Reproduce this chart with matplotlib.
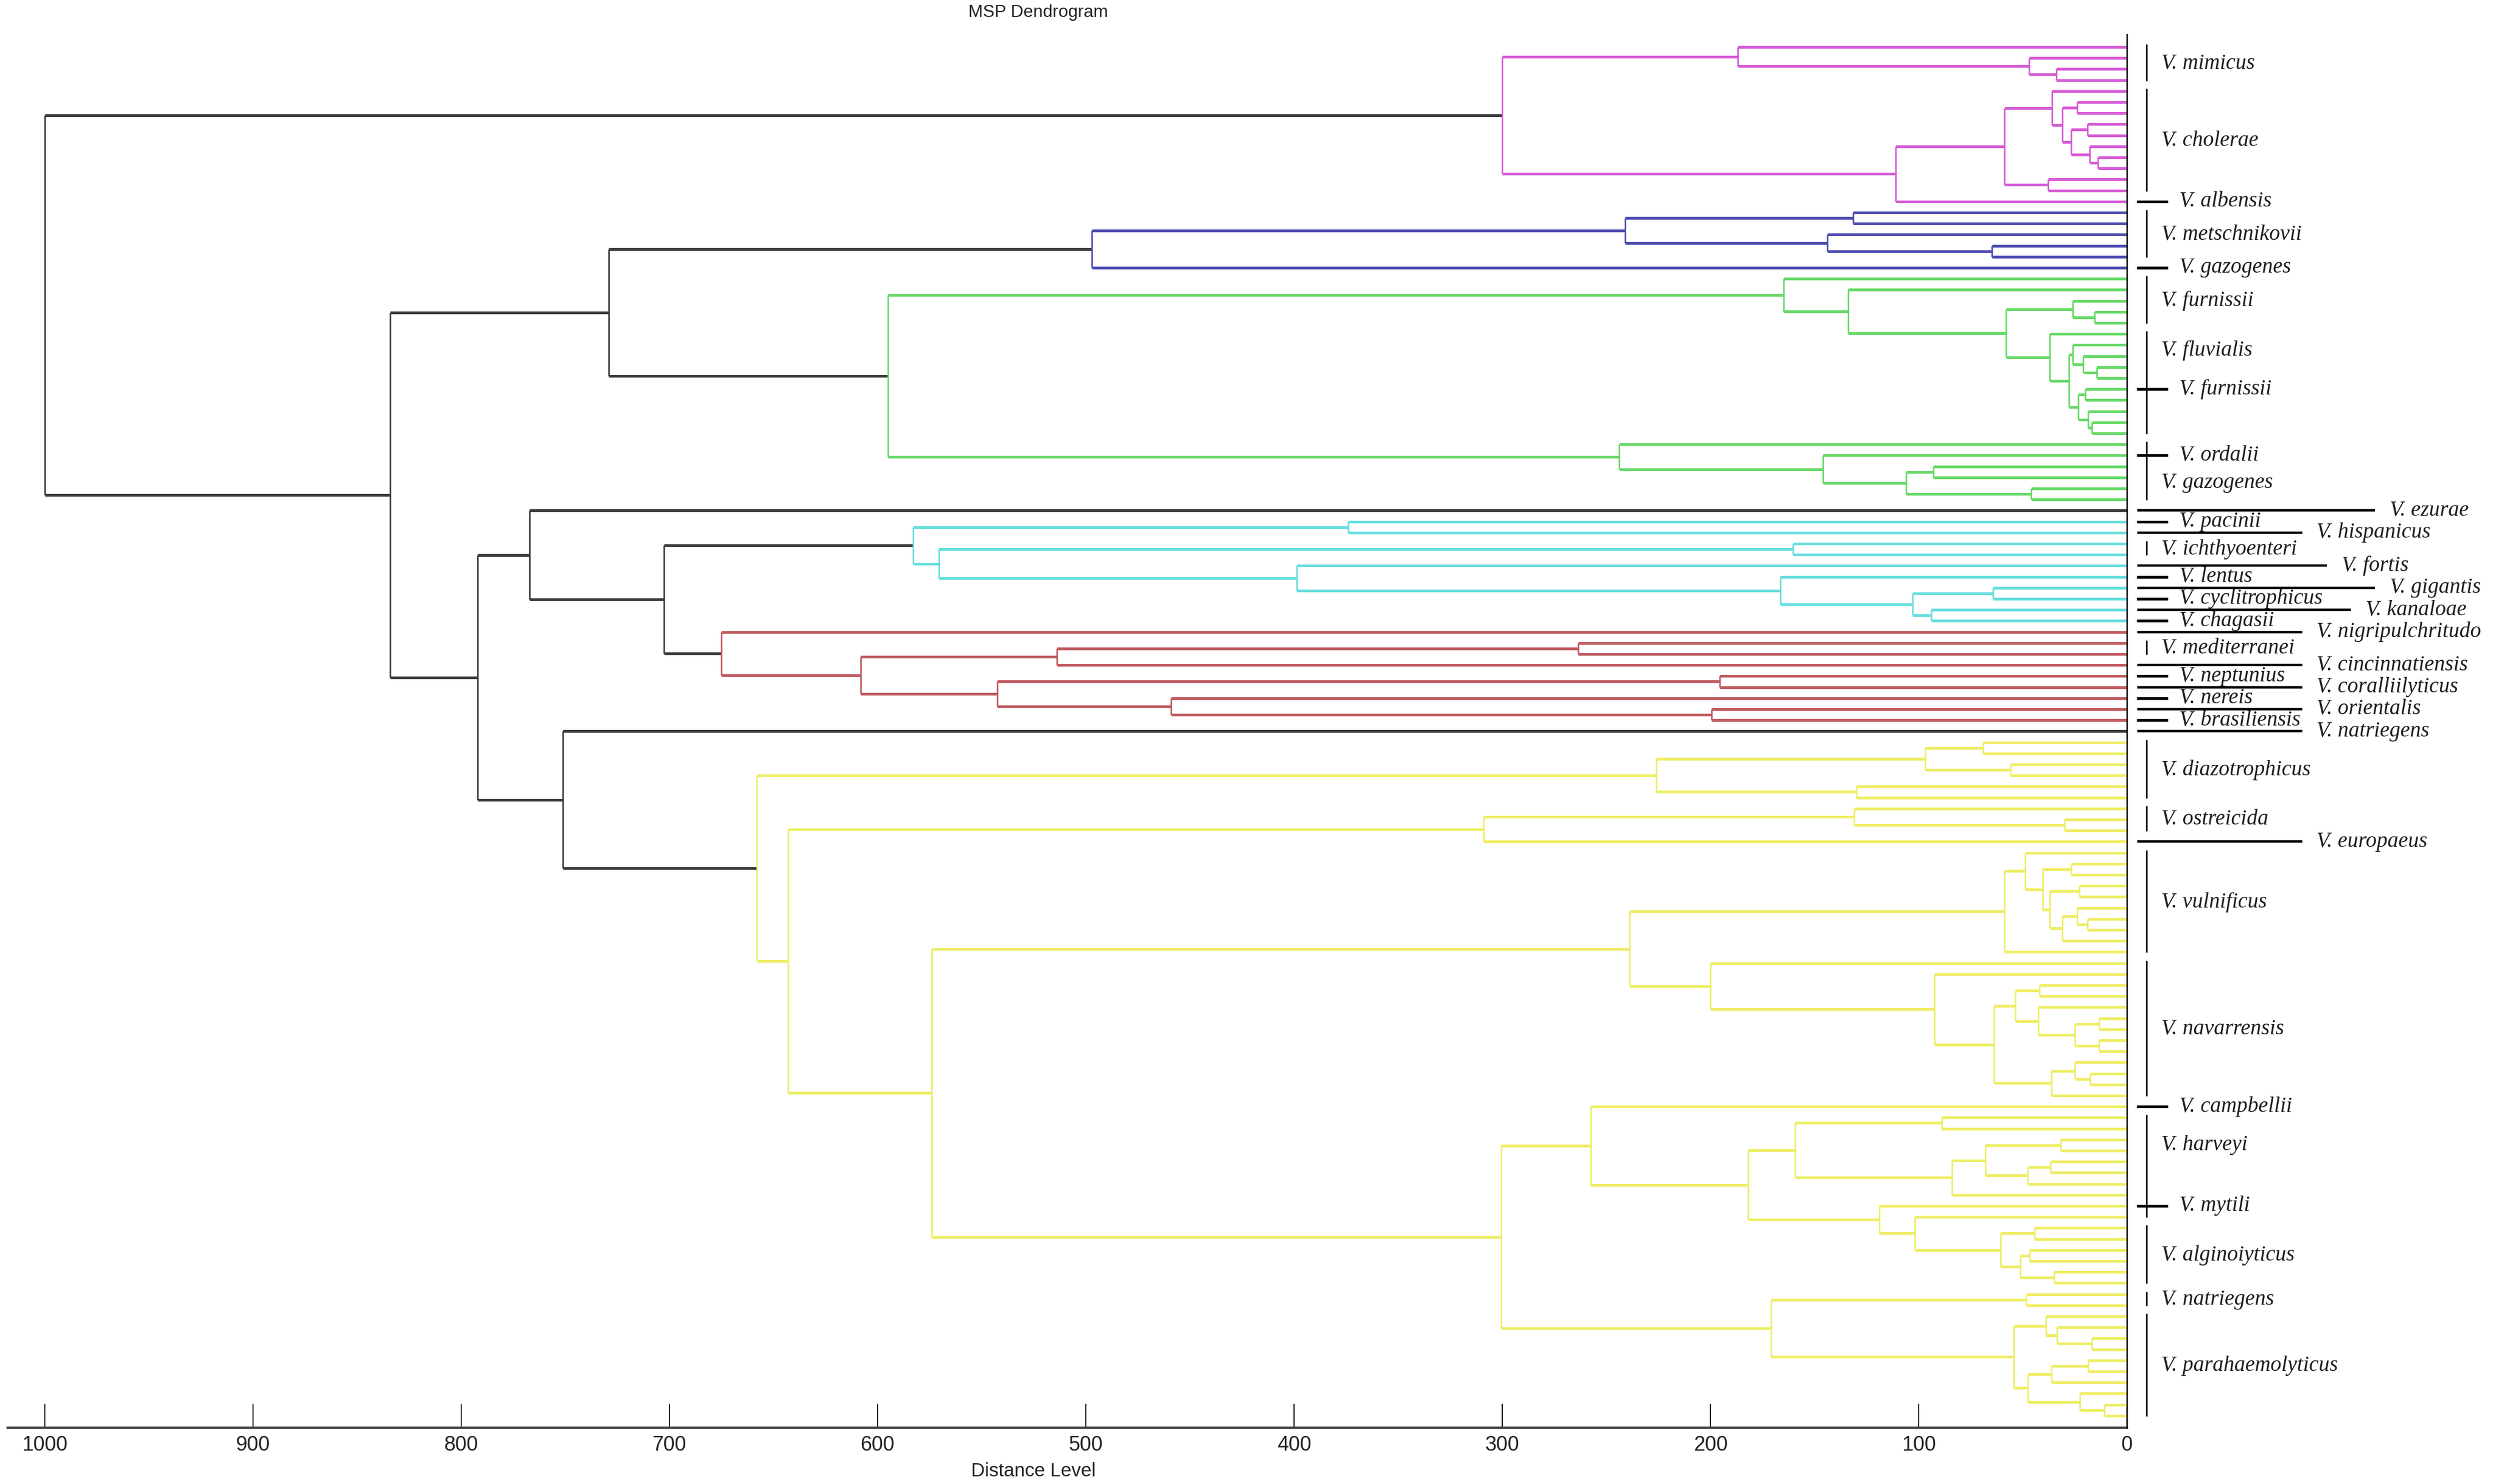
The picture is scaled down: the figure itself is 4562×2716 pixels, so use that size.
import matplotlib
matplotlib.use("Agg")
import matplotlib.pyplot as plt
from matplotlib.collections import LineCollection

# ---------------- data: dendrogram merges (left, right, distance[, clade]) ----------------
# leaves are numbered 0..124 from top to bottom
mimicus = (0, (1, (2, 3, 34), 47), 187)
cholerae = ((((4, ((5, 6, 24), ((7, 8, 19), (9, (10, 11, 14), 18), 27), 31), 36),
              (12, 13, 38), 59)), 14, 111)
pink_clade = (mimicus, cholerae, 300, "pink")

blue_clade = ((((15, 16, 131.5), (17, (18, 19, 65), 144), 241)), 20, 497, "blue")

green_a = (23, (24, 25, 15.6), 26)
green_b = (26, ((27, (28, (29, 30, 14.6), 21), 26),
                ((31, 32, 20), (33, (34, 35, 17), 18.7), 23.4), 28), 37)
green_1 = (21, (22, (green_a, green_b, 58), 134), 165)
green_2 = (36, (37, ((38, 39, 93), (40, 41, 46), 106), 146), 244)
green_clade = (green_1, green_2, 595, "green")

cyan_clade = ((43, 44, 374),
              ((45, 46, 160.5),
               (47, (48, ((49, 50, 64.4), (51, 52, 94), 103), 166.6), 398.6), 570.6),
              583, "cyan")

red_clade = (53, ((((54, 55, 263.7), 56, 514)),
                  ((57, 58, 195.6), (59, (60, 61, 199.5), 459), 542.5), 608), 675, "red")

y_diaz = (((63, 64, 69), (65, 66, 56), 97), (67, 68, 130), 226)
y_ostr = ((69, (70, 71, 30), 131), 72, 309)
y_vuln = ((73, ((74, 75, 27), ((76, 77, 23), ((78, (79, 80, 19), 24), 81, 31), 37), 40.5), 49), 82, 59)
y_nava = (83, (84, (((85, 86, 42), (87, ((88, 89, 13.4), (90, 91, 13.4), 25), 42.7), 53.6),
                    ((92, (93, 94, 17.8), 25), 95, 36.4), 64), 92.5), 200)
y_harv = ((97, 98, 89), ((((99, 100, 31.8), ((101, 102, 36.8), 103, 47.7), 68)), 104, 84), 159.5)
y_algi = ((107, 108, 44.5), ((109, 110, 46.7), (111, 112, 35), 51.4), 60.7)
y_camp = (96, (y_harv, (105, (106, y_algi, 102), 119), 182), 257.6)
y_para = ((115, (116, (117, 118, 17), 33.6), 39),
          (((119, 120, 18.7), 121, 36.4), (122, (123, 124, 11), 22.7), 47.7), 54.5)
y_natr = ((113, 114, 48.3), y_para, 171)
yellow_clade = (y_diaz, (y_ostr, ((y_vuln, y_nava, 239), (y_camp, y_natr, 300.6), 574), 643),
                658, "yellow")

root = (pink_clade,
        ((blue_clade, green_clade, 729),
         ((42, (cyan_clade, red_clade, 702.7), 767), (62, yellow_clade, 751), 792), 834),
        1000)

# ---------------- data: species labels ----------------
bar_spans = [(0, 3), (4, 13), (15, 19), (21, 25), (26, 35), (36, 41), (45, 46), (54, 55),
             (63, 68), (69, 71), (73, 82), (83, 95), (97, 106), (107, 112), (113, 114), (115, 124)]
bar_labels = [("V. mimicus", 0, 3), ("V. cholerae", 4, 13), ("V. metschnikovii", 15, 19),
              ("V. furnissii", 21, 25), ("V. fluvialis", 26, 29), ("V. gazogenes", 38, 41),
              ("V. ichthyoenteri", 45, 46), ("V. mediterranei", 54, 55),
              ("V. diazotrophicus", 63, 68), ("V. ostreicida", 69, 71), ("V. vulnificus", 73, 82),
              ("V. navarrensis", 83, 95), ("V. harveyi", 97, 102), ("V. alginoiyticus", 107, 112),
              ("V. natriegens", 113, 114), ("V. parahaemolyticus", 115, 124)]
short_labels = [("V. albensis", 14), ("V. gazogenes", 20), ("V. furnissii", 31), ("V. ordalii", 37),
                ("V. pacinii", 43), ("V. lentus", 48), ("V. cyclitrophicus", 50), ("V. chagasii", 52),
                ("V. neptunius", 57), ("V. nereis", 59), ("V. brasiliensis", 61),
                ("V. campbellii", 96), ("V. mytili", 105)]
long_labels = [("V. ezurae", 42), ("V. hispanicus", 44), ("V. fortis", 47), ("V. gigantis", 49),
               ("V. kanaloae", 51), ("V. nigripulchritudo", 53), ("V. cincinnatiensis", 56),
               ("V. coralliilyticus", 58), ("V. orientalis", 60), ("V. natriegens", 62),
               ("V. europaeus", 72)]
x_ticks = [0, 100, 200, 300, 400, 500, 600, 700, 800, 900, 1000]

# ---------------- styles / layout ----------------
colors = {"black": "#3a3a3a", "pink": "#d65ad6", "blue": "#4d4db0", "green": "#66d966",
          "cyan": "#66dede", "red": "#c05a5e", "yellow": "#eeee66"}
long_end = {"V. ezurae": -119, "V. fortis": -96, "V. gigantis": -119, "V. kanaloae": -107.6}

W, H, DPI = 4562, 2716, 100
fig = plt.figure(figsize=(W / DPI, H / DPI), dpi=DPI)
ax = fig.add_axes([0, 0, 1, 1])
ax.set_facecolor("white")
ax.set_xlim(1021.4, -175.7)
ax.set_ylim(130.2, -4.257)

hsegs, hcols, vsegs, vcols = [], [], [], []


def walk(node, color):
    if isinstance(node, int):
        return float(node), 0.0
    if len(node) == 4:
        color = node[3]
    left, right, h = node[0], node[1], node[2]
    yl, hl = walk(left, color)
    yr, hr = walk(right, color)
    c = colors[color]
    vsegs.append([(h, yl), (h, yr)])
    vcols.append(c)
    hsegs.append([(hl, yl), (h, yl)])
    hcols.append(c)
    hsegs.append([(hr, yr), (h, yr)])
    hcols.append(c)
    return (yl + yr) / 2.0, h


walk(root, "black")
ax.add_collection(LineCollection(hsegs, colors=hcols, linewidths=3.6, capstyle="butt", zorder=3))
ax.add_collection(LineCollection(vsegs, colors=vcols, linewidths=2.0, capstyle="butt", zorder=3))

# axes: bottom distance scale and right-hand zero line
for s in ["top", "right"]:
    ax.spines[s].set_visible(False)
ax.spines["bottom"].set_position(("data", 125.1))
ax.spines["bottom"].set_bounds(0, 1017.6)
ax.spines["bottom"].set_color("#404040")
ax.spines["bottom"].set_linewidth(3.2)
ax.spines["left"].set_position(("data", 0))
ax.spines["left"].set_bounds(-1.14, 125.1)
ax.spines["left"].set_color("black")
ax.spines["left"].set_linewidth(1.8)
ax.spines["left"].set_zorder(4)
ax.set_yticks([])
ax.set_xticks(x_ticks)
ax.set_xticklabels([str(t) for t in x_ticks], fontfamily=["Liberation Sans", "DejaVu Sans"])
ax.tick_params(axis="x", direction="in", length=32, width=1.3, color="black",
               pad=10, labelsize=27, labelcolor="#222222")

ax.set_xlabel("Distance Level", fontsize=25, fontfamily=["Liberation Sans", "DejaVu Sans"],
              color="#222222")
ax.xaxis.set_label_coords(1891 / W, 1 - 2676 / H)
fig.text(1900 / W, 1 - 23 / H, "MSP Dendrogram", ha="center", va="center", fontsize=23,
         fontfamily=["Liberation Sans", "DejaVu Sans"], color="#222222")

# species annotation
lab_font = dict(fontsize=28.5, fontstyle="italic", fontfamily=["Liberation Serif", "DejaVu Serif"],
                color="#1e1e1e", va="center", ha="left")
bar_x = -9.3
bars = [[(bar_x, a - 0.25), (bar_x, b + 0.05)] for a, b in bar_spans]
ax.add_collection(LineCollection(bars, colors="black", linewidths=2.0, zorder=4))
for name, a, b in bar_labels:
    ax.text(-16.5, (a + b) / 2.0, name, **lab_font)

shorts = [[(-4.7, k), (-19.6, k)] for _, k in short_labels]
ax.add_collection(LineCollection(shorts, colors="black", linewidths=3.6, zorder=4))
for name, k in short_labels:
    ax.text(-25, k, name, **lab_font)

longs = [[(-5, k), (long_end.get(name, -84), k)] for name, k in long_labels]
ax.add_collection(LineCollection(longs, colors="black", linewidths=3.2, zorder=4))
for name, k in long_labels:
    ax.text(long_end.get(name, -84) - 7, k, name, **lab_font)

fig.savefig("out.png", dpi=DPI, facecolor="white")
